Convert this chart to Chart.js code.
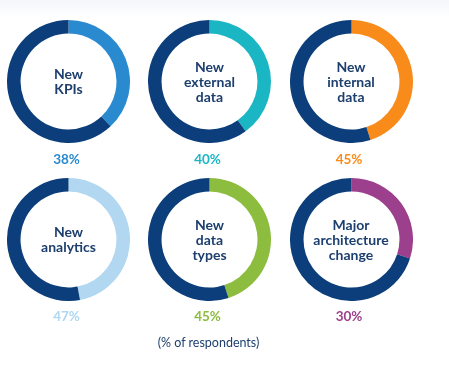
<!DOCTYPE html>
<html>
<head>
<meta charset="utf-8">
<script src="https://cdn.jsdelivr.net/npm/chart.js@4.4.0/dist/chart.umd.min.js"></script>
<style>
  html, body { margin: 0; padding: 0; background: #ffffff; }
  body { width: 449px; height: 368px; position: relative; overflow: hidden; font-family: "Lato", "Open Sans", sans-serif; }
  .topband { position: absolute; left: 0; top: 0; width: 449px; height: 18px; background: linear-gradient(#f4f6f9, #ffffff); }
  .cell { position: absolute; width: 123px; height: 123px; }
  .cell canvas { position: absolute; left: 0; top: 0; }
  .label { position: absolute; left: 0; top: 0; width: 123px; height: 123px; display: flex; align-items: center; justify-content: center; text-align: center; font-weight: 700; font-size: 14px; line-height: 15px; color: #1d3f6e; }
  .pct { position: absolute; width: 80px; text-align: center; font-weight: 700; font-size: 13.5px; }
  .note { position: absolute; left: 0; width: 417px; top: 335px; text-align: center; font-size: 12.5px; color: #1d3f6e; }
</style>
</head>
<body>
<div class="topband"></div>
<div id="root"></div>
<div class="note">(% of respondents)</div>
<script>
const categories = ["New<br>KPIs", "New<br>external<br>data", "New<br>internal<br>data", "New<br>analytics", "New<br>data<br>types", "Major<br>architecture<br>change"];
const percentValues = [38, 40, 45, 47, 45, 30];
const percentLabels = ["38%", "40%", "45%", "47%", "45%", "30%"];
const accentColors = ["#2a8ad0", "#1ab6c4", "#f98b1a", "#b1d7f1", "#8cbd3f", "#9c3f8c"];
const baseColor = "#0b3e7a";

const centersX = [68.5, 209.5, 351];
const centersY = [81, 239];
const pctY = [160, 317];

const root = document.getElementById('root');
percentValues.forEach((v, i) => {
  const col = i % 3, row = Math.floor(i / 3);
  const cx = centersX[col], cy = centersY[row];
  const cell = document.createElement('div');
  cell.className = 'cell';
  cell.style.left = (cx - 61.5) + 'px';
  cell.style.top = (cy - 61.5) + 'px';
  const cv = document.createElement('canvas');
  cv.width = 123; cv.height = 123;
  cv.style.width = '123px'; cv.style.height = '123px';
  cell.appendChild(cv);
  const lab = document.createElement('div');
  lab.className = 'label';
  lab.innerHTML = categories[i];
  cell.appendChild(lab);
  root.appendChild(cell);

  const p = document.createElement('div');
  p.className = 'pct';
  p.textContent = percentLabels[i];
  p.style.color = accentColors[i];
  p.style.left = (cx - 2 - 40) + 'px';
  p.style.top = (pctY[row] - 9) + 'px';
  root.appendChild(p);

  new Chart(cv, {
    type: 'doughnut',
    data: {
      labels: ['share', 'rest'],
      datasets: [{
        data: [v, 100 - v],
        backgroundColor: [accentColors[i], baseColor],
        borderWidth: 0,
        hoverOffset: 0
      }]
    },
    options: {
      responsive: false,
      animation: false,
      cutout: '78%',
      rotation: 0,
      layout: { padding: 0 },
      plugins: { legend: { display: false }, tooltip: { enabled: false } },
      events: []
    }
  });
});
</script>
</body>
</html>
